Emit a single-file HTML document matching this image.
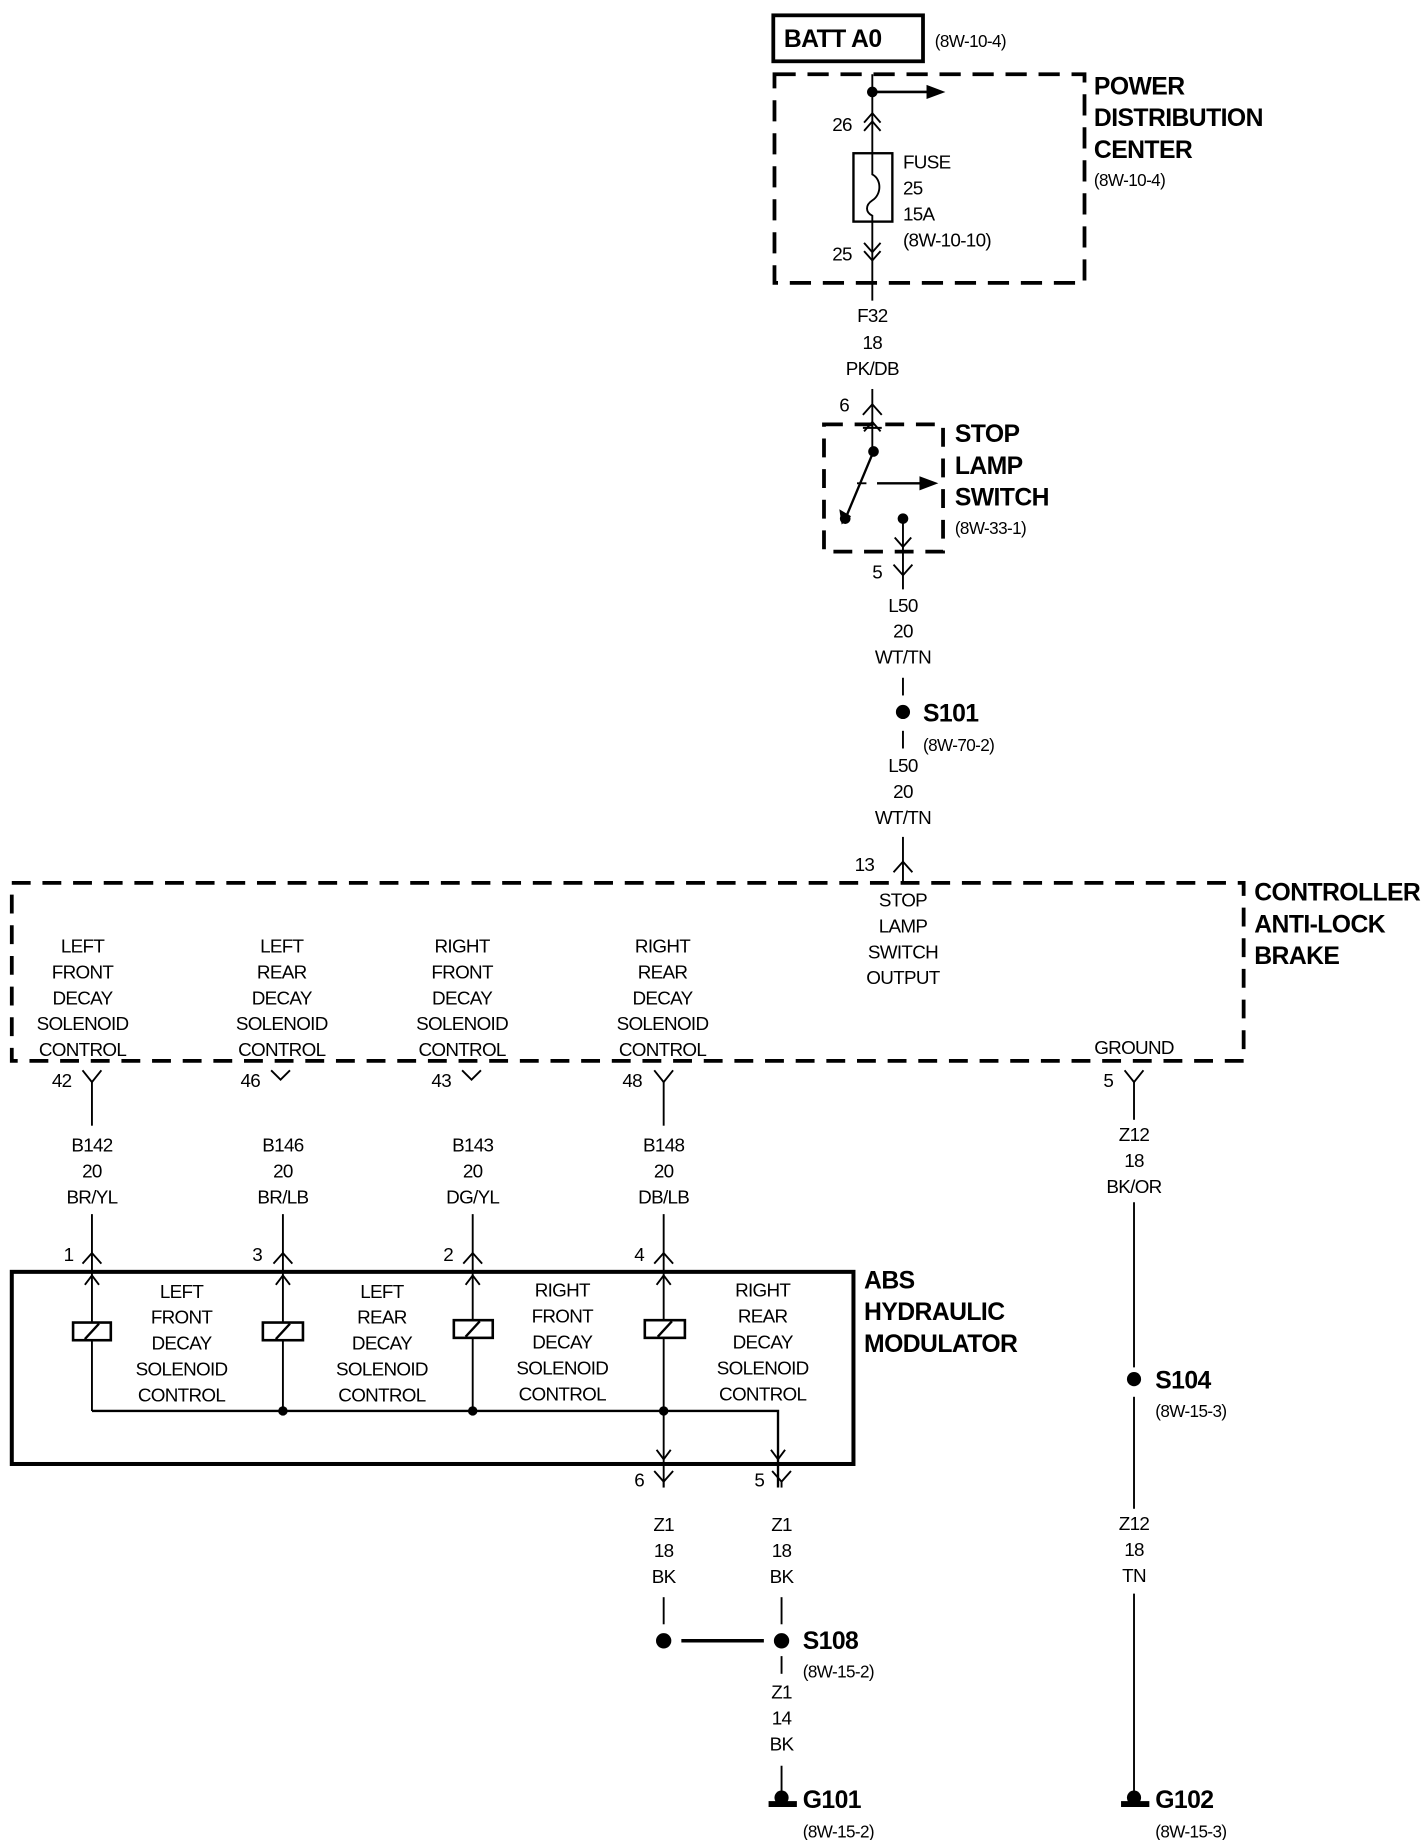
<!DOCTYPE html>
<html><head><meta charset="utf-8"><style>
html,body{margin:0;padding:0;background:#fff}
svg{display:block}
text{font-family:"Liberation Sans",sans-serif;fill:#000}
.n{font-size:16px;letter-spacing:-0.6px}
.c{font-size:16px;letter-spacing:-0.6px;text-anchor:middle}
.b{font-size:21px;font-weight:bold;letter-spacing:-0.5px}
.r{font-size:14.5px;letter-spacing:-0.5px}
</style></head><body>
<svg width="1424" height="1840" viewBox="0 0 1208 1561" preserveAspectRatio="none" xmlns="http://www.w3.org/2000/svg">
<g stroke="#000" fill="none" stroke-width="1.6">
<rect x="656" y="13" width="127" height="39" stroke-width="3.2"/>
<rect x="657" y="63" width="263" height="177" stroke-width="3.2" stroke-dasharray="18,10"/>
<line x1="740" y1="63" x2="740" y2="130"/>
<line x1="740" y1="188" x2="740" y2="255"/>
<line x1="740" y1="78" x2="788" y2="78" stroke-width="2.2"/>
<polyline points="733,104 740,96 747,104"/><polyline points="733,111 740,103 747,111"/>
<polyline points="733,206 740,214 747,206"/><polyline points="733,213 740,221 747,213"/>
<rect x="724" y="130" width="33" height="58" stroke-width="2"/>
<path d="M740 130 V148 C748 152 748 165 740 170 C734 174 734 180 740 183 V188"/>
<line x1="740" y1="330" x2="740" y2="383"/>
<polyline points="732,352 740,343 748,352"/>
<polyline points="733,366 740,358 747,366"/><line x1="732" y1="363" x2="748" y2="363"/>
<rect x="699" y="360" width="101" height="108" stroke-width="3.2" stroke-dasharray="16,10"/>
<line x1="741" y1="383" x2="718" y2="438" stroke-width="2"/>
<line x1="727" y1="410" x2="735" y2="410"/><line x1="744" y1="410" x2="782" y2="410" stroke-width="2"/>
<line x1="766" y1="440" x2="766" y2="500"/>
<polyline points="759,456 766,464 773,456"/>
<polyline points="758,479 766,488 774,479"/>
<line x1="766" y1="575" x2="766" y2="590"/>
<line x1="766" y1="620" x2="766" y2="635"/>
<line x1="766" y1="710" x2="766" y2="748"/>
<polyline points="758,740 766,731 774,740"/>
<rect x="10" y="749" width="1045" height="151" stroke-width="3.2" stroke-dasharray="16,10"/>
<polyline points="70,908 78,918 86,908"/><line x1="78" y1="918" x2="78" y2="955"/>
<polyline points="230,908 238,916 246,908"/>
<polyline points="392,908 400,916 408,908"/>
<polyline points="555,908 563,918 571,908"/><line x1="563" y1="918" x2="563" y2="955"/>
<polyline points="954,908 962,918 970,908"/><line x1="962" y1="918" x2="962" y2="950"/>
<line x1="962" y1="1020" x2="962" y2="1160"/>
<line x1="962" y1="1185" x2="962" y2="1280"/>
<line x1="962" y1="1352" x2="962" y2="1520"/>
<line x1="78" y1="1030" x2="78" y2="1197"/>
<line x1="240" y1="1030" x2="240" y2="1197"/>
<line x1="401" y1="1030" x2="401" y2="1197"/>
<line x1="563" y1="1030" x2="563" y2="1262"/>
<polyline points="70,1072 78,1063 86,1072"/><polyline points="232,1072 240,1063 248,1072"/>
<polyline points="393,1072 401,1063 409,1072"/><polyline points="555,1072 563,1063 571,1072"/>
<polyline points="72,1090 78,1082 84,1090"/><polyline points="234,1090 240,1082 246,1090"/>
<polyline points="395,1090 401,1082 407,1090"/><polyline points="557,1090 563,1082 569,1090"/>
<rect x="10" y="1079" width="714" height="163" stroke-width="3.4"/>
<g fill="#fff" stroke-width="2.2">
<rect x="62" y="1122" width="32" height="15"/><rect x="223" y="1122" width="34" height="15"/>
<rect x="385" y="1120" width="33" height="15"/><rect x="547" y="1120" width="34" height="15"/>
</g>
<line x1="72" y1="1136" x2="84" y2="1123" stroke-width="2"/><line x1="234" y1="1136" x2="246" y2="1123" stroke-width="2"/>
<line x1="395" y1="1134" x2="407" y2="1121" stroke-width="2"/><line x1="558" y1="1134" x2="570" y2="1121" stroke-width="2"/>
<polyline points="78,1197 660,1197 660,1262" stroke-width="2"/>
<polyline points="557,1230 563,1238 569,1230"/><polyline points="654,1230 660,1238 666,1230"/>
<polyline points="555,1248 563,1257 571,1248"/><line x1="563" y1="1257" x2="563" y2="1262"/>
<polyline points="655,1248 663,1257 671,1248"/><line x1="663" y1="1257" x2="663" y2="1262"/>
<line x1="563" y1="1355" x2="563" y2="1378"/>
<line x1="663" y1="1355" x2="663" y2="1378"/>
<line x1="578" y1="1392" x2="648" y2="1392" stroke-width="3"/>
<line x1="663" y1="1405" x2="663" y2="1420"/>
<line x1="663" y1="1498" x2="663" y2="1522"/>
</g>
<g fill="#000">
<circle cx="740" cy="78" r="4.5"/>
<polygon points="786,72 802,78 786,84"/>
<polygon points="780,404 796,410 780,416"/>
<circle cx="741" cy="383" r="4.5"/>
<polygon points="712,432 722,438 714,445"/>
<circle cx="717" cy="440" r="4.5"/><circle cx="766" cy="440" r="4.5"/>
<circle cx="766" cy="604" r="6"/>
<circle cx="240" cy="1197" r="4"/><circle cx="401" cy="1197" r="4"/><circle cx="563" cy="1197" r="4"/>
<circle cx="962" cy="1170" r="6"/>
<circle cx="563" cy="1392" r="6.5"/><circle cx="663" cy="1392" r="6.5"/>
<circle cx="663" cy="1525" r="6"/><rect x="652" y="1528" width="24" height="5"/>
<circle cx="962" cy="1525" r="6"/><rect x="951" y="1528" width="24" height="5"/>
</g>
<text class="b" x="665" y="40">BATT A0</text>
<text class="r" x="793" y="40">(8W-10-4)</text>
<text class="b" x="928" y="80">POWER</text>
<text class="b" x="928" y="107">DISTRIBUTION</text>
<text class="b" x="928" y="134">CENTER</text>
<text class="r" x="928" y="158">(8W-10-4)</text>
<text class="n" x="706" y="111">26</text>
<text class="n" x="706" y="221">25</text>
<text class="n" x="766" y="143">FUSE</text><text class="n" x="766" y="165">25</text>
<text class="n" x="766" y="187">15A</text><text class="n" x="766" y="209">(8W-10-10)</text>
<text class="c" x="740" y="273">F32</text><text class="c" x="740" y="296">18</text><text class="c" x="740" y="318">PK/DB</text>
<text class="n" x="712" y="349">6</text>
<text class="b" x="810" y="375">STOP</text><text class="b" x="810" y="402">LAMP</text>
<text class="b" x="810" y="429">SWITCH</text><text class="r" x="810" y="453">(8W-33-1)</text>
<text class="n" x="740" y="491">5</text>
<text class="c" x="766" y="519">L50</text><text class="c" x="766" y="541">20</text><text class="c" x="766" y="563">WT/TN</text>
<text class="b" x="783" y="612">S101</text><text class="r" x="783" y="637">(8W-70-2)</text>
<text class="c" x="766" y="655">L50</text><text class="c" x="766" y="677">20</text><text class="c" x="766" y="699">WT/TN</text>
<text class="n" x="725" y="739">13</text>
<text class="b" x="1064" y="764">CONTROLLER</text><text class="b" x="1064" y="791">ANTI-LOCK</text><text class="b" x="1064" y="818">BRAKE</text>
<text class="c" x="766" y="769">STOP</text><text class="c" x="766" y="791">LAMP</text><text class="c" x="766" y="813">SWITCH</text><text class="c" x="766" y="835">OUTPUT</text>
<text class="c" x="70" y="808">LEFT</text><text class="c" x="70" y="830">FRONT</text><text class="c" x="70" y="852">DECAY</text><text class="c" x="70" y="874">SOLENOID</text><text class="c" x="70" y="896">CONTROL</text>
<text class="c" x="239" y="808">LEFT</text><text class="c" x="239" y="830">REAR</text><text class="c" x="239" y="852">DECAY</text><text class="c" x="239" y="874">SOLENOID</text><text class="c" x="239" y="896">CONTROL</text>
<text class="c" x="392" y="808">RIGHT</text><text class="c" x="392" y="830">FRONT</text><text class="c" x="392" y="852">DECAY</text><text class="c" x="392" y="874">SOLENOID</text><text class="c" x="392" y="896">CONTROL</text>
<text class="c" x="562" y="808">RIGHT</text><text class="c" x="562" y="830">REAR</text><text class="c" x="562" y="852">DECAY</text><text class="c" x="562" y="874">SOLENOID</text><text class="c" x="562" y="896">CONTROL</text>
<text class="c" x="962" y="894">GROUND</text>
<text class="n" x="44" y="922">42</text><text class="n" x="204" y="922">46</text>
<text class="n" x="366" y="922">43</text><text class="n" x="528" y="922">48</text>
<text class="n" x="936" y="922">5</text>
<text class="c" x="78" y="977">B142</text><text class="c" x="78" y="999">20</text><text class="c" x="78" y="1021">BR/YL</text>
<text class="c" x="240" y="977">B146</text><text class="c" x="240" y="999">20</text><text class="c" x="240" y="1021">BR/LB</text>
<text class="c" x="401" y="977">B143</text><text class="c" x="401" y="999">20</text><text class="c" x="401" y="1021">DG/YL</text>
<text class="c" x="563" y="977">B148</text><text class="c" x="563" y="999">20</text><text class="c" x="563" y="1021">DB/LB</text>
<text class="c" x="962" y="968">Z12</text><text class="c" x="962" y="990">18</text><text class="c" x="962" y="1012">BK/OR</text>
<text class="n" x="54" y="1070">1</text><text class="n" x="214" y="1070">3</text>
<text class="n" x="376" y="1070">2</text><text class="n" x="538" y="1070">4</text>
<text class="b" x="733" y="1093">ABS</text><text class="b" x="733" y="1120">HYDRAULIC</text><text class="b" x="733" y="1147">MODULATOR</text>
<text class="c" x="154" y="1101">LEFT</text><text class="c" x="154" y="1123">FRONT</text><text class="c" x="154" y="1145">DECAY</text><text class="c" x="154" y="1167">SOLENOID</text><text class="c" x="154" y="1189">CONTROL</text>
<text class="c" x="324" y="1101">LEFT</text><text class="c" x="324" y="1123">REAR</text><text class="c" x="324" y="1145">DECAY</text><text class="c" x="324" y="1167">SOLENOID</text><text class="c" x="324" y="1189">CONTROL</text>
<text class="c" x="477" y="1100">RIGHT</text><text class="c" x="477" y="1122">FRONT</text><text class="c" x="477" y="1144">DECAY</text><text class="c" x="477" y="1166">SOLENOID</text><text class="c" x="477" y="1188">CONTROL</text>
<text class="c" x="647" y="1100">RIGHT</text><text class="c" x="647" y="1122">REAR</text><text class="c" x="647" y="1144">DECAY</text><text class="c" x="647" y="1166">SOLENOID</text><text class="c" x="647" y="1188">CONTROL</text>
<text class="n" x="538" y="1261">6</text><text class="n" x="640" y="1261">5</text>
<text class="c" x="563" y="1299">Z1</text><text class="c" x="563" y="1321">18</text><text class="c" x="563" y="1343">BK</text>
<text class="c" x="663" y="1299">Z1</text><text class="c" x="663" y="1321">18</text><text class="c" x="663" y="1343">BK</text>
<text class="b" x="681" y="1399">S108</text><text class="r" x="681" y="1423">(8W-15-2)</text>
<text class="c" x="663" y="1441">Z1</text><text class="c" x="663" y="1463">14</text><text class="c" x="663" y="1485">BK</text>
<text class="b" x="681" y="1534">G101</text><text class="r" x="681" y="1559">(8W-15-2)</text>
<text class="b" x="980" y="1178">S104</text><text class="r" x="980" y="1202">(8W-15-3)</text>
<text class="c" x="962" y="1298">Z12</text><text class="c" x="962" y="1320">18</text><text class="c" x="962" y="1342">TN</text>
<text class="b" x="980" y="1534">G102</text><text class="r" x="980" y="1559">(8W-15-3)</text>
</svg>
</body></html>
